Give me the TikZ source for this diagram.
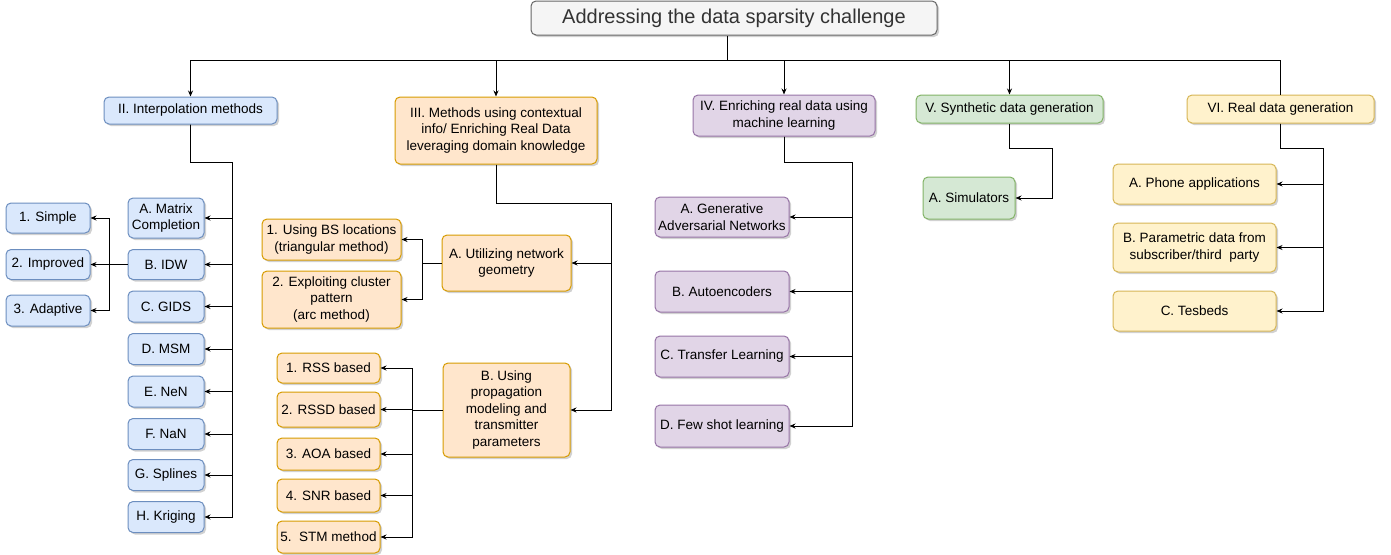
\documentclass[tikz,border=0pt]{standalone}
\usepackage{fontspec}
\setmainfont{Liberation Sans}
\usetikzlibrary{arrows.meta,calc,shadows}
\definecolor{bluefill}{HTML}{DAE8FC}
\definecolor{bluedraw}{HTML}{6C8EBF}
\definecolor{orgfill}{HTML}{FFE6CC}
\definecolor{orgdraw}{HTML}{D79B00}
\definecolor{purfill}{HTML}{E1D5E7}
\definecolor{purdraw}{HTML}{9673A6}
\definecolor{grnfill}{HTML}{D5E8D4}
\definecolor{grndraw}{HTML}{82B366}
\definecolor{ylwfill}{HTML}{FFF2CC}
\definecolor{ylwdraw}{HTML}{D6B656}
\definecolor{rootfill}{HTML}{F5F5F5}
\definecolor{rootdraw}{HTML}{666666}

\tikzset{
	box/.style={rounded corners=5pt, line width=1pt, align=center, inner sep=2pt,
		font=\fontsize{13.5}{16.5}\selectfont,
		drop shadow={shadow xshift=2pt, shadow yshift=-2pt, opacity=0.3, fill=black!60}},
	wh/.style 2 args={minimum width=#1pt, minimum height=#2pt},
	rootbox/.style={box, fill=rootfill, draw=rootdraw, text=black!80, font=\fontsize{20}{24}\selectfont},
	bluebox/.style={box, fill=bluefill, draw=bluedraw},
	orgbox/.style={box, fill=orgfill, draw=orgdraw},
	purbox/.style={box, fill=purfill, draw=purdraw},
	grnbox/.style={box, fill=grnfill, draw=grndraw},
	ylwbox/.style={box, fill=ylwfill, draw=ylwdraw},
	conn/.style={line width=1pt, black},
	connarr/.style={conn, -{Stealth[length=6pt, width=5pt]}}
}

\begin{document}
\begin{tikzpicture}[x=1pt,y=1pt,yscale=-1,xscale=1]
	\useasboundingbox (0,0) rectangle (1391,554);

	\node [rootbox, wh={406}{34}] (root) at (734,18) {Addressing the data sparsity challenge};

	\node [bluebox, wh={173}{27}] (interp) at (190.5,110.5) {II. Interpolation methods};
	\node [orgbox, wh={202}{67}] (context) at (496,130.5) {III. Methods using contextual\\info/ Enriching Real Data\\leveraging domain knowledge};
	\node [purbox, wh={182}{41}] (mlearn) at (784,115.5) {IV. Enriching real data using\\machine learning};
	\node [grnbox, wh={187}{28}] (synth) at (1009.5,109) {V. Synthetic data generation};
	\node [ylwbox, wh={187}{28}] (realgen) at (1280.5,109) {VI. Real data generation};

	\node [bluebox, wh={76}{40}] (matrix) at (166,218) {A. Matrix\\Completion};
	\node [bluebox, wh={76}{30}] (idw) at (166,264.5) {B. IDW};
	\node [bluebox, wh={76}{31}] (gids) at (166,306.5) {C. GIDS};
	\node [bluebox, wh={76}{31}] (msm) at (166,349) {D. MSM};
	\node [bluebox, wh={76}{31}] (nen) at (166,391.5) {E. NeN};
	\node [bluebox, wh={76}{31}] (nan) at (166,434) {F. NaN};
	\node [bluebox, wh={76}{31}] (splines) at (166,475) {G. Splines};
	\node [bluebox, wh={76}{31}] (kriging) at (166,517) {H. Kriging};
	\node [bluebox, wh={84}{30}] (simple) at (48,218) {1. Simple};
	\node [bluebox, wh={84}{30}] (improved) at (48,264.5) {2. Improved};
	\node [bluebox, wh={84}{31}] (adaptive) at (48,310.5) {3. Adaptive};

	\node [orgbox, wh={129}{56}] (geometry) at (506.5,263) {A. Utilizing network\\geometry};
	\node [orgbox, wh={127}{94}] (propag) at (506.5,410) {B. Using\\propagation\\modeling and\\transmitter\\parameters};
	\node [orgbox, wh={139}{41}] (bsloc) at (331.5,239.5) {1. Using BS locations\\(triangular method)};
	\node [orgbox, wh={139}{57}] (cluster) at (331.5,299.5) {2. Exploiting cluster\\pattern\\(arc method)};
	\node [orgbox, wh={103}{30}] (rss) at (328.5,368) {1. RSS based};
	\node [orgbox, wh={103}{35}] (rssd) at (328.5,409.5) {2. RSSD based};
	\node [orgbox, wh={103}{32}] (aoa) at (328.5,454) {3. AOA based};
	\node [orgbox, wh={103}{33}] (snr) at (328.5,495.5) {4. SNR based};
	\node [orgbox, wh={103}{32}] (stm) at (328.5,537) {5.\ \ STM method};

	\node [purbox, wh={134}{40}] (gan) at (722,217) {A. Generative\\Adversarial Networks};
	\node [purbox, wh={134}{41}] (autoenc) at (722,291.5) {B. Autoencoders};
	\node [purbox, wh={134}{41}] (transfer) at (722,356.5) {C. Transfer Learning};
	\node [purbox, wh={134}{42}] (fewshot) at (722,426) {D. Few shot learning};

	\node [grnbox, wh={92}{42}] (simul) at (969,198) {A. Simulators};

	\node [ylwbox, wh={163}{40}] (phone) at (1194.5,184) {A. Phone applications};
	\node [ylwbox, wh={163}{49}] (param) at (1194.5,247.5) {B. Parametric data from\\subscriber/third\ \ party};
	\node [ylwbox, wh={163}{40}] (testbed) at (1194.5,311) {C. Tesbeds};

	% elbow points of the buses
	\coordinate (hub) at (727,60);
	\coordinate (interpbus) at (232,162);
	\coordinate (idwbus) at (109,264.5);
	\coordinate (contextbus) at (611,203);
	\coordinate (geombus) at (422,263);
	\coordinate (propbus) at (412,410);
	\coordinate (mlbus) at (852,162);
	\coordinate (synthbus) at (1052,148);
	\coordinate (realbus) at (1323,148);

	\draw [conn] (hub |- root.south) -- (hub);
	\foreach \n in {interp,context,mlearn,synth}
		\draw [connarr] (hub) -| (\n);
	\draw [conn] (hub) -| (realgen);

	\foreach \n in {matrix,idw,gids,msm,nen,nan,splines,kriging}
		\draw [connarr] (interp) |- (interpbus) |- (\n);
	\foreach \n in {simple,improved,adaptive}
		\draw [connarr] (idw) -- (idwbus) |- (\n);

	\foreach \n in {geometry,propag}
		\draw [connarr] (context) |- (contextbus) |- (\n);
	\foreach \n in {bsloc,cluster}
		\draw [connarr] (geometry) -- (geombus) |- (\n);
	\foreach \n in {rss,rssd,aoa,snr,stm}
		\draw [connarr] (propag) -- (propbus) |- (\n);

	\foreach \n in {gan,autoenc,transfer,fewshot}
		\draw [connarr] (mlearn) |- (mlbus) |- (\n);

	\draw [connarr] (synth) |- (synthbus) |- (simul);
	\foreach \n in {phone,param,testbed}
		\draw [connarr] (realgen) |- (realbus) |- (\n);
\end{tikzpicture}
\end{document}
